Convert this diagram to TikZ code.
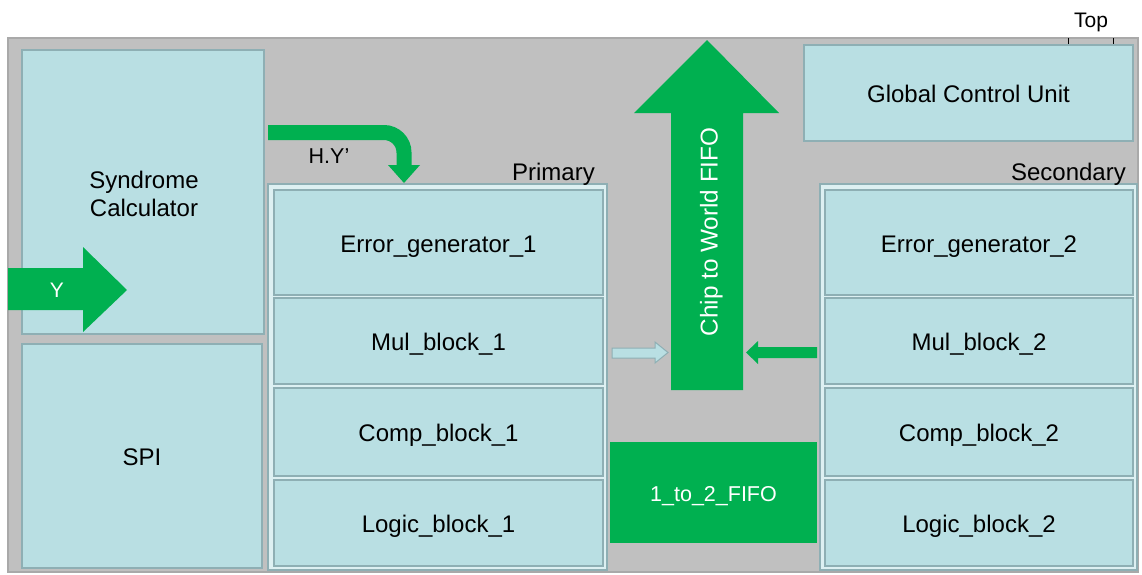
\documentclass[tikz,border=0pt]{standalone}
\usepackage{fontspec}
\setmainfont{Liberation Sans}
\definecolor{bgc}{HTML}{C0C0C0}
\definecolor{bgline}{HTML}{A9A9A9}
\definecolor{boxc}{HTML}{B9DFE3}
\definecolor{boxline}{HTML}{8EAFB4}
\definecolor{outerc}{HTML}{DDF0F2}
\definecolor{grn}{HTML}{00B050}
\begin{document}
\begin{tikzpicture}[x=1pt,y=-1pt,
  blk/.style={draw=boxline, fill=boxc, line width=1.5pt, inner sep=0pt,
    font=\fontsize{24}{28.5}\selectfont, text height=19.5pt, text depth=0pt},
  outerbox/.style={draw=boxline, fill=outerc, line width=1.5pt, inner sep=0pt},
  gblk/.style={fill=grn, inner sep=0pt, text=white, font=\fontsize{21.5}{25}\selectfont,
    text height=18pt, text depth=0pt},
  lbl/.style={font=\fontsize{24}{28.5}\selectfont, inner sep=0pt},
  garrow/.style={fill=grn},
  larrow/.style={fill=boxc, draw=boxline, line width=1pt}]
\useasboundingbox (0,0) rectangle (1142,574);
\fill[white] (0,0) rectangle (1142,574);
\draw[draw=bgline, fill=bgc, line width=1.5pt] (8,38) rectangle (1138,572);
% top label and ticks
\node[lbl, font=\fontsize{21}{25}\selectfont] (top) at (1091,22) {Top};
\coordinate (t1a) at (1068,38); \coordinate (t1b) at (1068,44);
\coordinate (t2a) at (1113,38); \coordinate (t2b) at (1113,44);
\draw[line width=1pt] (t1a) -- (t1b) (t2a) -- (t2b);
% left column
\node[blk, minimum width=242pt, minimum height=284pt] (syn) at (143,192) {};
\node[lbl, align=center] (synlbl) at (144,194) {Syndrome\\Calculator};
\node[blk, minimum width=240pt, minimum height=224pt] (spi) at (142,456) {SPI};
% primary
\node[outerbox, minimum width=339pt, minimum height=386pt] (prim) at (437.5,377) {};
\node[lbl, anchor=base east] (primlbl) at (595,180) {Primary};
\node[blk, minimum width=329pt, minimum height=105pt] (eg1) at (438.5,242.5) {Error\_generator\_1};
\node[blk, minimum width=329pt, minimum height=86pt] (mb1) at (438.5,341) {Mul\_block\_1};
\node[blk, minimum width=329pt, minimum height=88pt] (cb1) at (438.5,432) {Comp\_block\_1};
\node[blk, minimum width=329pt, minimum height=86pt] (lb1) at (438.5,523) {Logic\_block\_1};
% secondary
\node[outerbox, minimum width=317pt, minimum height=386pt] (sec) at (978.5,377) {};
\node[lbl, anchor=base east] (seclbl) at (1126,180) {Secondary};
\node[blk, minimum width=308pt, minimum height=105pt] (eg2) at (979,242.5) {Error\_generator\_2};
\node[blk, minimum width=308pt, minimum height=86pt] (mb2) at (979,341) {Mul\_block\_2};
\node[blk, minimum width=308pt, minimum height=88pt] (cb2) at (979,432) {Comp\_block\_2};
\node[blk, minimum width=308pt, minimum height=86pt] (lb2) at (979,523) {Logic\_block\_2};
% global control unit
\node[blk, minimum width=329pt, minimum height=96pt] (gcu) at (968.5,93) {Global Control Unit};
% 1 to 2 FIFO
\node[gblk, minimum width=207pt, minimum height=101pt] (fifo) at (713.5,492.5) {1\_to\_2\_FIFO};
% chip to world FIFO arrow
\fill[garrow] (671,390) -- (671,113) -- (634,113) -- (707,40) -- (779,113) -- (743,113) -- (743,390) -- cycle;
\node[rotate=90, text=white, font=\fontsize{24.3}{28}\selectfont, inner sep=0pt,
  text height=19pt, text depth=0pt] (c2w) at (708,232) {Chip to World FIFO};
% Y arrow
\fill[garrow] (8,268) -- (83,268) -- (83,247) -- (127,290) -- (83,332) -- (83,310) -- (8,310) -- cycle;
\node[text=white, font=\fontsize{21}{25}\selectfont, inner sep=0pt] (ylbl) at (57,290) {Y};
% H.Y' arrow
\coordinate (hys) at (268,132.5);
\coordinate (hye) at (404,166);
\draw[grn, line width=15pt, rounded corners=20pt] (hys) -| (hye);
\fill[garrow] (388,165) -- (420,165) -- (404,183) -- cycle;
\node[lbl, font=\fontsize{21.5}{25}\selectfont] (hylbl) at (329,156) {H.Y’};
% small arrows
\fill[larrow] (612,348) -- (655,348) -- (655,342) -- (668,352.5) -- (655,363) -- (655,358) -- (612,358) -- cycle;
\fill[garrow] (817,347) -- (758,347) -- (758,341) -- (746,352.5) -- (758,364) -- (758,358) -- (817,358) -- cycle;
\end{tikzpicture}
\end{document}
